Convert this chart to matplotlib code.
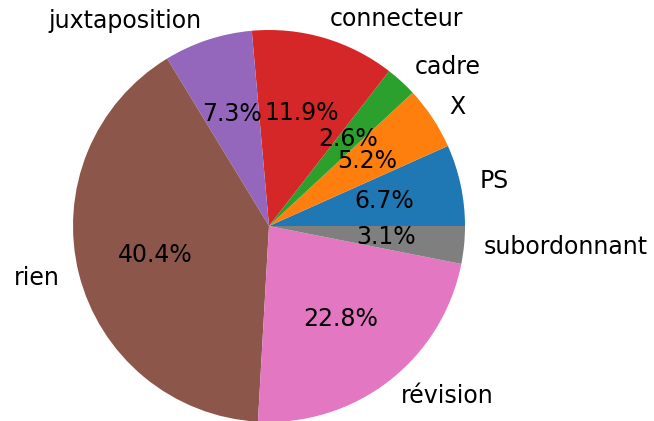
import numpy as np
import matplotlib
matplotlib.use("Agg")
import matplotlib.pyplot as plt

labels = ["PS", "X", "cadre", "connecteur", "juxtaposition", "rien",
          "révision", "subordonnant"]
shares = [6.7, 5.2, 2.6, 11.9, 7.3, 40.4, 22.8, 3.1]


def main():
    fig = plt.figure(figsize=(6.54, 4.21), dpi=100)
    # pie centre ~ (269, 226) px, radius ~196 px
    cx, cy, r = 269, 226, 196
    W, H = 654, 421
    ax = fig.add_axes([(cx - r) / W, (H - cy - r) / H, 2 * r / W, 2 * r / H])

    ax.pie(shares, labels=labels, autopct="%1.1f%%",
           textprops={"fontsize": 17})
    ax.set_xlim(-1, 1)
    ax.set_ylim(-1, 1)
    ax.set_aspect("equal")

    fig.savefig("out.png", dpi=100)


if __name__ == '__main__':
    main()
